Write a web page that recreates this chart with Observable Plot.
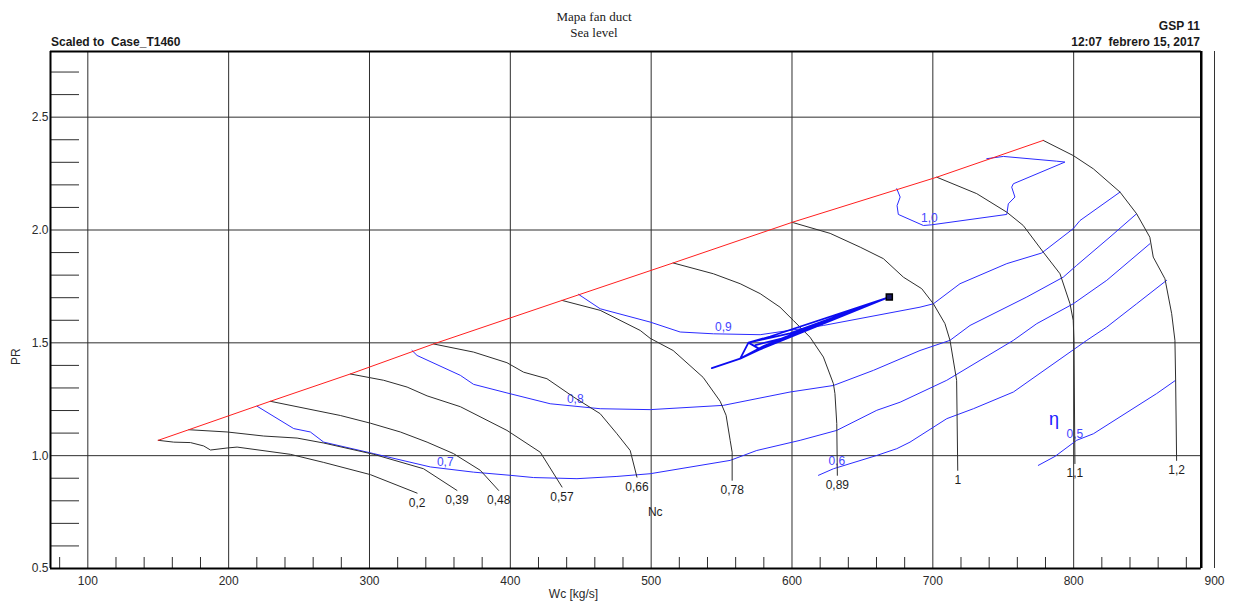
<!DOCTYPE html>
<html>
<head>
<meta charset="utf-8">
<script src="https://cdn.jsdelivr.net/npm/d3@7"></script>
<script src="https://cdn.jsdelivr.net/npm/@observablehq/plot@0.6"></script>
<style>
  body { margin: 0; background: #fff; }
  #wrap { position: relative; width: 1234px; height: 613px; font-family: "Liberation Sans", Arial, sans-serif; color: #1a1a1a; }
  #wrap svg { position: absolute; left: 0; top: 0; }
  .hdr { position: absolute; white-space: pre; line-height: 14px; font-size: 12px; font-weight: bold; }
  #title { position: absolute; left: 494px; width: 200px; top: 9px; text-align: center;
           font-family: "Liberation Serif", "Times New Roman", serif; font-size: 13px; line-height: 16px; }
</style>
</head>
<body>
<div id="wrap">
  <div id="title">Mapa fan duct<br>Sea level</div>
  <div class="hdr" style="left:51px; top:35px;">Scaled to  Case_T1460</div>
  <div class="hdr" style="right:34px; top:19px; text-align:right;">GSP 11</div>
  <div class="hdr" style="right:34px; top:35px; text-align:right;">12:07  febrero 15, 2017</div>
</div>
<script>
// Corrected speed lines Nc: [Wc, PR] points, starting on the surge line
const nc020 = [[150,1.068],[161,1.060],[172.9,1.058],[182.3,1.043],[187.1,1.025],[198.9,1.034],[206,1.038],[243.8,1.006],[267.5,0.970],[300.6,0.916],[333.8,0.834]];
const nc039 = [[171.7,1.115],[198.9,1.105],[224.9,1.087],[248.6,1.078],[267.5,1.056],[303.0,1.006],[338.4,0.942],[362.1,0.846]];
const nc048 = [[229.6,1.241],[279.3,1.178],[300.6,1.144],[321.9,1.105],[340.9,1.060],[359.7,1.009],[378.7,0.935],[391.7,0.846]];
const nc057 = [[286.4,1.362],[310.1,1.334],[326.7,1.304],[340.9,1.265],[364.5,1.217],[397.6,1.112],[421.3,1.015],[436.7,0.861]];
const nc066 = [[345.5,1.495],[373.9,1.459],[397.6,1.412],[409.4,1.370],[426.0,1.341],[444.9,1.260],[463.8,1.186],[475.7,1.097],[485.1,1.023],[489.9,0.905]];
const nc078 = [[436.7,1.688],[463.8,1.644],[492.2,1.555],[499.3,1.520],[515.6,1.466],[536.9,1.347],[549.0,1.241],[553.2,1.179],[556.1,1.068],[557.5,1.015],[557.5,0.891]];
const nc089 = [[515.6,1.854],[544.2,1.806],[563.2,1.762],[577.4,1.718],[591.5,1.658],[601.0,1.599],[612.8,1.525],[622.3,1.437],[629.4,1.319],[630.5,1.275],[631.8,1.142],[632.2,0.913]];
const nc100 = [[600.1,2.034],[627.1,1.985],[648.4,1.924],[664.9,1.873],[679.1,1.791],[692.1,1.740],[700.4,1.673],[708.6,1.585],[712.2,1.511],[716.9,1.334],[717.7,0.935]];
const nc110 = [[702.8,2.234],[731.2,2.161],[752.5,2.079],[764.2,2.020],[778.4,1.902],[790.3,1.806],[797.4,1.673],[799.7,1.599],[800.2,1.511],[800.9,0.965]];
const nc120 = [[778.4,2.397],[799.7,2.330],[814.0,2.271],[832.9,2.168],[844.7,2.072],[854.1,1.968],[856.5,1.880],[864.8,1.784],[869.6,1.629],[871.9,1.511],[872.4,1.334],[873.1,0.979]];
const ncValues = [0.2, 0.39, 0.48, 0.57, 0.66, 0.78, 0.89, 1, 1.1, 1.2];
const ncLines = [nc020, nc039, nc048, nc057, nc066, nc078, nc089, nc100, nc110, nc120];

// Isentropic efficiency contours
const eta05 = [[774.9,0.957],[786.8,0.997],[802.1,1.068],[814.0,1.097],[858.9,1.275],[872.4,1.334]];
const eta06 = [[618.8,0.913],[629.4,0.942],[660.2,1.001],[674.4,1.031],[683.8,1.060],[709.9,1.164],[728.8,1.208],[757.2,1.282],[769.0,1.334],[809.3,1.511],[823.5,1.570],[844.7,1.673],[866.0,1.777]];
const eta07 = [[220.2,1.219],[246.2,1.120],[258.0,1.105],[267.5,1.060],[303.0,1.009],[343.2,0.950],[373.9,0.927],[399.9,0.913],[416.5,0.903],[447.3,0.898],[475.7,0.908],[499.3,0.920],[556.1,0.979],[575.0,1.023],[605.8,1.068],[631.8,1.112],[660.2,1.201],[676.8,1.237],[709.9,1.334],[757.2,1.511],[773.8,1.585],[799.7,1.673],[823.5,1.777],[854.1,1.939]];
const eta08 = [[330.2,1.466],[333.8,1.444],[364.5,1.356],[373.9,1.316],[397.6,1.278],[428.3,1.230],[463.8,1.208],[499.3,1.204],[551.3,1.223],[598.6,1.282],[629.4,1.311],[657.8,1.378],[690.9,1.466],[712.2,1.511],[726.4,1.577],[766.7,1.703],[792.6,1.791],[802.1,1.843],[825.8,1.969],[844.7,2.072]];
const eta09 = [[448.4,1.715],[463.8,1.651],[499.3,1.592],[520.6,1.548],[544.2,1.540],[577.4,1.536],[622.3,1.577],[690.9,1.658],[700.4,1.673],[719.3,1.762],[752.5,1.851],[777.3,1.898],[799.7,2.006],[804.5,2.042],[832.9,2.168]];
const eta10 = [[674.4,2.183],[676.8,2.146],[674.6,2.108],[675.5,2.069],[693.3,2.020],[699.2,2.023],[752.5,2.069],[753.6,2.116],[758.3,2.146],[756.0,2.190],[757.2,2.205],[793.8,2.301],[787.9,2.305],[750.1,2.326],[738.3,2.316]];
const etaValues = [0.5, 0.6, 0.7, 0.8, 0.9, 1.0];
const etaLines = [eta05, eta06, eta07, eta08, eta09, eta10];
const etaLabelWc = [800.9, 631.8, 353.8, 446.1, 551.3, 697.6];

// Transient operating line (Wc, PR), ending at the steady-state point
const opRun = [[543.1,1.388],[563.2,1.430],[569.1,1.501],[584.5,1.528],[669.1,1.703],[577.4,1.471],[569.1,1.501],[598.6,1.542],[669.1,1.703],[588.0,1.502],[563.2,1.430],[580.2,1.487],[669.1,1.703],[592.5,1.519],[574.0,1.490]];

// Axis ticks
const xTicks = [100, 200, 300, 400, 500, 600, 700, 800, 900];
const yTicks = [0.5, 1.0, 1.5, 2.0, 2.5];
const xGrid = [100, 200, 300, 400, 500, 600, 700, 800];
const yGrid = [1.0, 1.5, 2.0, 2.5];
const xMinor = d3.range(80, 900, 20).filter(v => v % 100 !== 0);
const yMinor = d3.range(6, 28).filter(v => v % 5 !== 0).map(v => v / 10);

// Layout
const W = 1234, H = 613, mL = 50, mR = 20, mT = 51, mB = 45;
const xDomain = [73.5, 900];
const yDomain = [0.5, 2.791];
const frameRight = 890.6;
const perPxX = (xDomain[1] - xDomain[0]) / (W - mL - mR);
const perPxY = (yDomain[1] - yDomain[0]) / (H - mT - mB);

const comma = s => String(s).replace(".", ",");

const speedRows = ncLines.flatMap((pts, i) => pts.map(([x, y]) => ({nc: ncValues[i], x, y})));
const surgeRows = ncLines.map(pts => ({x: pts[0][0], y: pts[0][1]}));
const speedEnds = ncLines.map((pts, i) => ({x: pts[pts.length - 1][0], y: pts[pts.length - 1][1], label: comma(ncValues[i])}));

const etaRows = etaLines.flatMap((pts, i) => pts.map(([x, y]) => ({eta: etaValues[i], x, y})));
function yOnLine(pts, x) {
  for (let i = 0; i < pts.length - 1; i++) {
    const [x0, y0] = pts[i], [x1, y1] = pts[i + 1];
    if (Math.min(x0, x1) <= x && x <= Math.max(x0, x1) && x0 !== x1) return y0 + (y1 - y0) * (x - x0) / (x1 - x0);
  }
  return pts[0][1];
}
const etaLabels = etaLines.map((pts, i) => ({x: etaLabelWc[i], y: yOnLine(pts, etaLabelWc[i]), label: comma(d3.format(".1f")(etaValues[i]))}));

const opRows = opRun.map(([x, y], i) => ({i, x, y}));
const opEnd = [opRows.reduce((a, b) => (b.x > a.x ? b : a))];

const dark = "#2e2e2e";
const blue = "#2b2bff";

const chart = Plot.plot({
  width: W, height: H,
  marginLeft: mL, marginRight: mR, marginTop: mT, marginBottom: mB,
  x: {domain: xDomain},
  y: {domain: yDomain},
  style: {fontFamily: "'Liberation Sans', Arial, sans-serif", fontSize: "12px", color: "#2a2a2a", background: "transparent"},
  marks: [
    // grid
    Plot.ruleX(xGrid, {y1: yDomain[0], y2: yDomain[1], stroke: dark, strokeWidth: 1}),
    Plot.ruleY(yGrid, {x1: xDomain[0], x2: frameRight, stroke: dark, strokeWidth: 1}),
    // minor ticks drawn inward from the frame
    Plot.ruleY(yMinor, {x1: xDomain[0], x2: xDomain[0] + 29 * perPxX, stroke: dark, strokeWidth: 1}),
    Plot.ruleX(xMinor, {y1: yDomain[0], y2: yDomain[0] + 11 * perPxY, stroke: dark, strokeWidth: 1}),
    // frame
    Plot.ruleY([yDomain[0], yDomain[1]], {x1: xDomain[0], x2: frameRight, stroke: "black", strokeWidth: 2}),
    Plot.ruleX([xDomain[0]], {y1: yDomain[0], y2: yDomain[1], stroke: "black", strokeWidth: 2}),
    Plot.ruleX([frameRight], {y1: yDomain[0], y2: yDomain[1], stroke: "black", strokeWidth: 2.5}),
    Plot.ruleX([900], {y1: yDomain[0], y2: yDomain[1], stroke: "#333", strokeWidth: 1}),
    // efficiency contours
    Plot.line(etaRows, {x: "x", y: "y", z: "eta", stroke: blue, strokeWidth: 1}),
    Plot.text(etaLabels, {x: "x", y: "y", text: "label", dy: -7, fill: "#4646ff", fontSize: 12}),
    // speed lines
    Plot.line(speedRows, {x: "x", y: "y", z: "nc", stroke: dark, strokeWidth: 1}),
    Plot.text(speedEnds, {x: "x", y: "y", text: "label", dy: 10, fill: "#1e1e1e", fontSize: 12}),
    // surge line
    Plot.line(surgeRows, {x: "x", y: "y", stroke: "#ff1f1f", strokeWidth: 1}),
    // operating line
    Plot.line(opRows, {x: "x", y: "y", stroke: "#0c0cf0", strokeWidth: 1.8}),
    Plot.dot(opEnd, {x: "x", y: "y", symbol: "square", r: 3.4, stroke: "black", fill: "#1a1a60", strokeWidth: 1.5}),
    // annotations
    Plot.text(["Nc"], {x: 502.9, y: 0.75, fill: "#1e1e1e", fontSize: 12}),
    Plot.text(["\u03b7"], {x: 786, y: 1.161, fill: "#2020ff", fontSize: 18}),
    // axes
    Plot.axisX(xTicks, {tickSize: 0, tickPadding: 8, fontSize: 12, label: null}),
    Plot.axisY(yTicks, {tickSize: 0, tickPadding: 2, fontSize: 12, label: null, tickFormat: d3.format(".1f")}),
    Plot.text(["Wc [kg/s]"], {frameAnchor: "bottom", dx: -59, dy: 29, fontSize: 12, fill: "#2a2a2a"}),
    Plot.text(["PR"], {frameAnchor: "left", dx: -34, dy: 55, rotate: -90, fontSize: 12, fill: "#2a2a2a"})
  ]
});

document.getElementById("wrap").prepend(chart);
</script>
</body>
</html>
